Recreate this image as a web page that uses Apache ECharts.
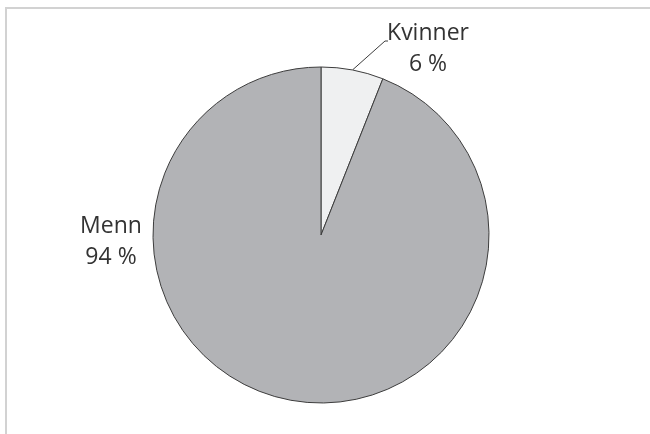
<!DOCTYPE html>
<html>
<head>
<meta charset="utf-8">
<script src="https://cdn.jsdelivr.net/npm/echarts@6/dist/echarts.min.js"></script>
<style>
html,body{margin:0;padding:0;background:#fff;}
#frame{position:absolute;left:5px;top:7px;width:645px;height:427px;border-top:2px solid #d2d2d2;border-left:2px solid #d2d2d2;box-sizing:border-box;}
#chart{position:absolute;left:0;top:0;width:650px;height:434px;}
</style>
</head>
<body>
<div id="frame"></div>
<div id="chart"></div>
<script>
var categories = ['Kvinner', 'Menn'];
var values = [6, 94];
var colors = ['#eff0f1', '#b2b3b6'];

var chart = echarts.init(document.getElementById('chart'), null, {renderer: 'canvas'});
var data = categories.map(function (c, i) {
  return {
    name: c,
    value: values[i],
    itemStyle: {color: colors[i]},
    labelLine: {show: i === 0}
  };
});
chart.setOption({
  animation: false,
  backgroundColor: 'transparent',
  series: [{
    type: 'pie',
    center: [321, 235],
    radius: 168,
    startAngle: 90,
    clockwise: true,
    data: data,
    itemStyle: {borderColor: '#3c3c3c', borderWidth: 1},
    emphasis: {disabled: true},
    label: {
      show: true,
      position: 'outside',
      formatter: '{b}\n{c} %',
      fontFamily: 'Open Sans',
      fontSize: 23,
      lineHeight: 31,
      color: '#333333',
      align: 'center'
    },
    labelLine: {show: true, length: 20, length2: 5, lineStyle: {color: '#3c3c3c', width: 1}},
    labelLayout: function (p) {
      if (p.dataIndex === 0) {
        var start = p.labelLinePoints ? p.labelLinePoints[0] : [353, 69];
        return {
          x: 428, y: 49, align: 'center', verticalAlign: 'middle',
          labelLinePoints: [start, [385, 41], [388, 41]]
        };
      }
      return {x: 111, y: 242, align: 'center', verticalAlign: 'middle'};
    }
  }]
});
</script>
</body>
</html>
